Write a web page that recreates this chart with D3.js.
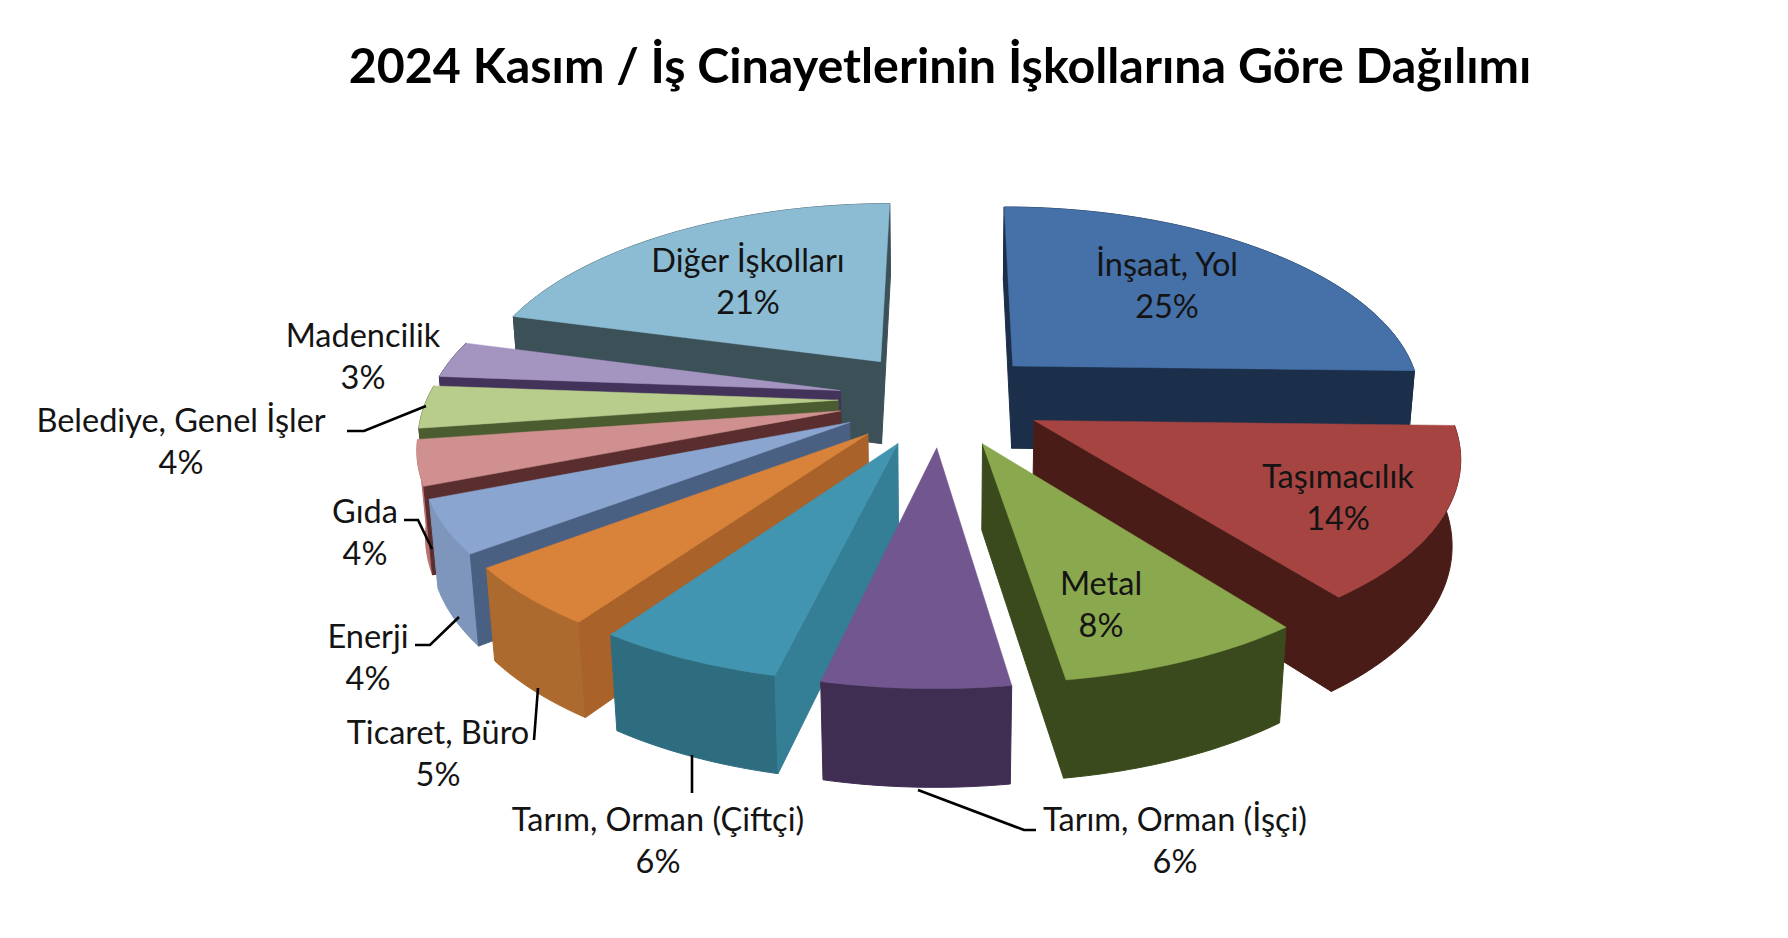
<!DOCTYPE html>
<html>
<head>
<meta charset="utf-8">
<script src="https://cdn.jsdelivr.net/npm/d3@7"></script>
<style>
    html, body {margin: 0; padding: 0; background: #fff;}
    text {font-family: Lato, "Noto Sans", sans-serif;}
</style>
</head>
<body>
<script>
// chart values
const chartTitle = '2024 Kasım / İş Cinayetlerinin İşkollarına Göre Dağılımı';
const categories = ['İnşaat, Yol', 'Taşımacılık', 'Metal', 'Tarım, Orman (İşçi)', 'Tarım, Orman (Çiftçi)',
    'Ticaret, Büro', 'Enerji', 'Gıda', 'Belediye, Genel İşler', 'Madencilik', 'Diğer İşkolları'];
const shares = [25.4, 14.2, 8.0, 6.0, 6.0, 5.0, 4.4, 3.7, 3.5, 3.0, 20.8];

// top, radial wall, outer wall
const topColors = ['#4570a8', '#a64441', '#8aa84d', '#72568f', '#4295b0', '#d9823a', '#8aa6d0', '#d09090', '#b8cd8c', '#a494c0', '#8cbcd4'];
const sideColors = ['#1b2f4a', '#4a1c18', '#3a4a1c', '#3f2e52', '#347f95', '#a8622a', '#4a6082', '#5a2e2e', '#4a5c30', '#43335a', '#3c5058'];
const rimColors = ['#1b2f4a', '#4a1c18', '#3a4a1c', '#3f2e52', '#2e6d80', '#ad6a2e', '#7e96bc', '#b87070', '#4a5c30', '#43335a', '#3c5058'];

// label centres and leader lines, same order as categories
const labelPos = [[1167, 265], [1338, 477], [1101, 584], [1175, 820], [658, 820],
    [438, 733], [368, 637], [365, 512], [181, 421], [363, 336], [748, 261]];
const leaders = [null, null, null,
    [[918, 790], [1024, 830], [1036, 830]],
    [[692, 755], [692, 793]],
    [[538, 688], [534, 740]],
    [[459, 617], [430, 645], [415, 645]],
    [[432, 549], [418, 520], [404, 520]],
    [[426, 406], [364, 431], [347, 431]],
    null, null];

const graphicopt = {
    width: 1788, height: 938,
    explode: 0.25,      // slice offset, in pie radii
    x0: 941, y0: 398.5, // where the pie centre lands
    skew: 1,            // the front of the pie sits a little left
    scaleX: 411, scaleY: 190.5,
    persp: 0.1435, perspX: 0.158,   // how fast things shrink towards the back
    depth: 84.7, depthPersp: 0.0095, depthPerspX: 0.016
};

// pie plane (p right, q back, z 0..1 down) to screen
function project(p, q, z) {
    let o = graphicopt;
    let w = 1 + o.persp * q + o.depthPersp * z;
    let wx = 1 + o.perspX * q + o.depthPerspX * z;
    return [o.x0 + o.skew * q + o.scaleX * p / wx, o.y0 + (-o.scaleY * q + o.depth * z) / w];
}

function planePoint(d, angle, r) {
    let mid = (d.startAngle + d.endAngle) / 2;
    return [graphicopt.explode * Math.sin(mid) + r * Math.sin(angle),
        graphicopt.explode * Math.cos(mid) + r * Math.cos(angle)];
}

function arcAngles(d) {
    let n = Math.max(2, Math.ceil((d.endAngle - d.startAngle) / 0.02));
    return d3.range(n + 1).map(i => d.startAngle + (d.endAngle - d.startAngle) * i / n);
}

const svg = d3.select('body').append('svg')
    .attr('width', graphicopt.width)
    .attr('height', graphicopt.height)
    .style('display', 'block');

svg.append('text')
    .attr('x', 940).attr('y', 83)
    .attr('text-anchor', 'middle')
    .style('font-size', '48.4px')
    .style('font-weight', 700)
    .attr('fill', '#000')
    .text(chartTitle);

const slices = d3.pie().sort(null).value(d => d.value)(shares.map((v, i) => ({value: v, i: i})));
const polyPath = d3.line().curve(d3.curveLinearClosed);

// back slices first
const ordered = slices.slice().sort((a, b) => Math.cos((b.startAngle + b.endAngle) / 2) - Math.cos((a.startAngle + a.endAngle) / 2));

const pie3d = svg.append('g').attr('class', 'pie3d');
ordered.forEach(d => {
    let g = pie3d.append('g').attr('class', 'slice');
    let apex = planePoint(d, 0, 0);
    let angles = arcAngles(d);
    let outer = angles.map(a => planePoint(d, a, 1));
    let top = [apex].concat(outer).map(c => project(c[0], c[1], 0));
    let topArea = d3.polygonArea(top);

    // outer wall goes under the top, so the hidden back part does not matter
    let rim = outer.map(c => project(c[0], c[1], 0))
        .concat(outer.slice().reverse().map(c => project(c[0], c[1], 1)));
    g.append('path').attr('d', polyPath(rim)).attr('fill', rimColors[d.data.i]).attr('stroke', rimColors[d.data.i]).attr('stroke-width', 1);

    [outer[0], outer[outer.length - 1]].forEach((corner, k) => {
        let a = k === 0 ? apex : corner, b = k === 0 ? corner : apex;
        let wall = [project(a[0], a[1], 0), project(b[0], b[1], 0), project(b[0], b[1], 1), project(a[0], a[1], 1)];
        if (d3.polygonArea(wall) * topArea < 0) {
            g.append('path').attr('d', polyPath(wall)).attr('fill', sideColors[d.data.i]).attr('stroke', sideColors[d.data.i]).attr('stroke-width', 1);
        }
    });

    g.append('path').attr('d', polyPath(top)).attr('fill', topColors[d.data.i]).attr('stroke', topColors[d.data.i]).attr('stroke-width', 0.5);
});

svg.append('g').selectAll('path')
    .data(leaders.filter(d => d))
    .enter().append('path')
    .attr('d', d3.line())
    .attr('fill', 'none')
    .attr('stroke', '#000')
    .attr('stroke-width', 2.6);

const labels = svg.append('g').selectAll('text')
    .data(slices)
    .enter().append('text')
    .attr('text-anchor', 'middle')
    .style('font-size', '32.5px')
    .attr('fill', '#141414');
labels.append('tspan')
    .attr('x', d => labelPos[d.data.i][0])
    .attr('y', d => labelPos[d.data.i][1] + 11)
    .text(d => categories[d.data.i]);
labels.append('tspan')
    .attr('x', d => labelPos[d.data.i][0])
    .attr('y', d => labelPos[d.data.i][1] + 53)
    .text(d => Math.round(d.data.value) + '%');
</script>
</body>
</html>
